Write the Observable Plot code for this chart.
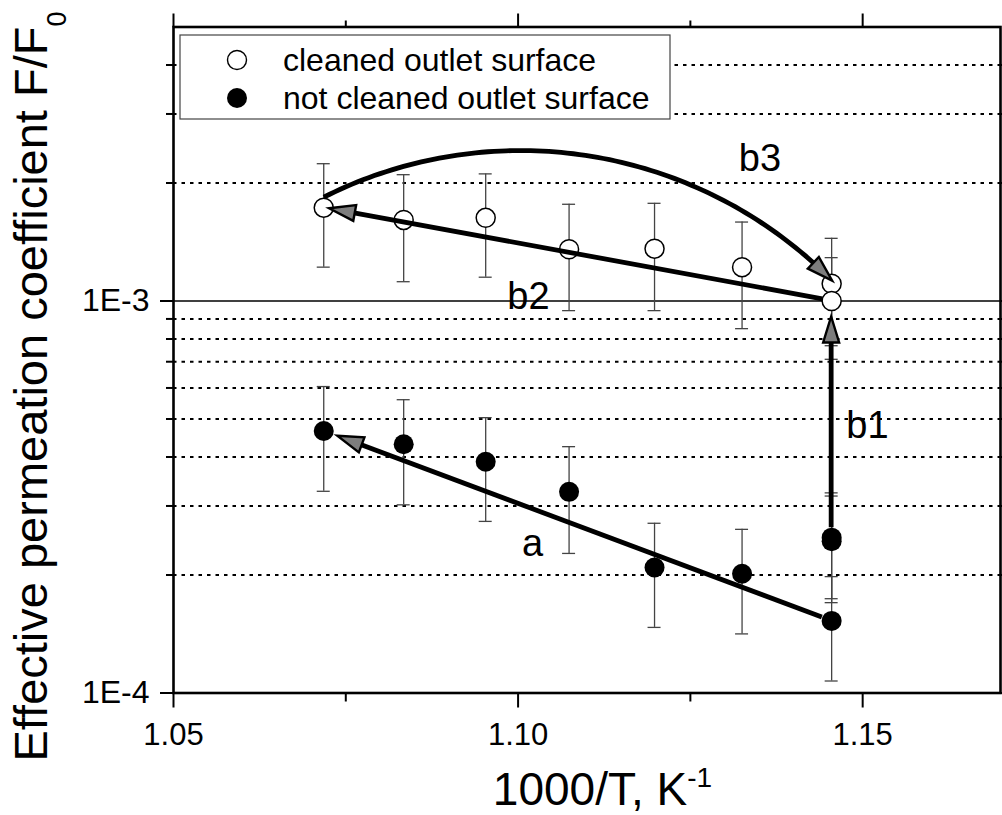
<!DOCTYPE html>
<html>
<head>
<meta charset="utf-8">
<script src="https://cdn.jsdelivr.net/npm/d3@7"></script>
<script src="https://cdn.jsdelivr.net/npm/@observablehq/plot@0.6"></script>
<style>
  html, body { margin: 0; padding: 0; background: #fff; }
  svg { display: block; }
</style>
</head>
<body>
<div id="chart"></div>
<script>
const FONT = "'Liberation Sans', Arial, Helvetica, sans-serif";

// Cleaned outlet surface (open circles): 1000/T, F/F0 and its error
const cleanedX   = [1.0718, 1.0834, 1.0953, 1.1074, 1.1198, 1.1325, 1.1455, 1.1455];
const cleanedF   = [1.73e-3, 1.61e-3, 1.63e-3, 1.355e-3, 1.36e-3, 1.22e-3, 1.107e-3, 1.0e-3];
const cleanedErr = [0.51e-3, 0.49e-3, 0.48e-3, 0.41e-3, 0.415e-3, 0.37e-3, 0.338e-3, 0.29e-3];

// Not cleaned outlet surface (filled circles)
const notCleanedX   = [1.0718, 1.0834, 1.0953, 1.1074, 1.1198, 1.1325, 1.1455, 1.1455, 1.1455];
const notCleanedF   = [4.66e-4, 4.31e-4, 3.89e-4, 3.26e-4, 2.09e-4, 2.015e-4, 2.49e-4, 2.44e-4, 1.527e-4];
const notCleanedErr = [1.39e-4, 1.29e-4, 1.15e-4, 0.99e-4, 0.62e-4, 0.60e-4, 0.75e-4, 0.74e-4, 0.454e-4];

// Transition arrows between measured states
const arrowNames = ["a", "b1", "b2", "b3"];
const arrowFromX = [1.1455, 1.1455, 1.1455, 1.0718];
const arrowFromF = [1.527e-4, 2.49e-4, 1.0e-3, 1.73e-3];
const arrowToX   = [1.0718, 1.1455, 1.0718, 1.1455];
const arrowToF   = [4.66e-4, 1.0e-3, 1.73e-3, 1.107e-3];

// Arrow labels
const labelText = ["a", "b1", "b2", "b3"];
const labelX    = [1.1021, 1.1507, 1.1015, 1.1351];
const labelF    = [2.40e-4, 4.80e-4, 1.024e-3, 2.30e-3];

// Axis ticks
const xMajor = [1.05, 1.10, 1.15];
const xMajorLabels = ["1.05", "1.10", "1.15"];
const xMinor = [1.075, 1.125];
const yMajor = [1e-4, 1e-3];
const yMajorLabels = ["1E-4", "1E-3"];
const yMinor = [2e-4, 3e-4, 4e-4, 5e-4, 6e-4, 7e-4, 8e-4, 9e-4, 2e-3, 3e-3, 4e-3];

const legendLabels = ["cleaned outlet surface", "not cleaned outlet surface"];
const xTitle = ["1000/T, K", "-1"];
const yTitle = ["Effective permeation coefficient F/F", "0"];

// Tables for the marks
const cleaned = cleanedX.map((x, i) => ({
  x, f: cleanedF[i], lo: cleanedF[i] - cleanedErr[i], hi: cleanedF[i] + cleanedErr[i]
}));
const notCleaned = notCleanedX.map((x, i) => ({
  x, f: notCleanedF[i], lo: notCleanedF[i] - notCleanedErr[i], hi: notCleanedF[i] + notCleanedErr[i]
}));
const labels = labelText.map((t, i) => ({t, x: labelX[i], f: labelF[i]}));

// Drawing style of each arrow: bend angle (deg), pixel insets at both ends,
// and optional pixel shifts of the end anchors (curved arrow leaves the top of the circle)
const arrowStyle = {
  a:  {bend: 0,  inset0: 10, inset1: 15},
  b1: {bend: 0,  inset0: 10, inset1: 16},
  b2: {bend: 0,  inset0: 9,  inset1: 6},
  b3: {bend: 36, inset0: 0,  inset1: 0, shift0: [0.5, -10], shift1: [1, -2.5]}
};
const HEAD_LEN = 26, HEAD_HALF = 8;

function pathPoints(p0, p1, bendDeg, inset0, inset1, n = 90) {
  const dx = p1[0] - p0[0], dy = p1[1] - p0[1], c = Math.hypot(dx, dy);
  if (!bendDeg) {
    const ux = dx / c, uy = dy / c;
    return [[p0[0] + ux * inset0, p0[1] + uy * inset0], [p1[0] - ux * inset1, p1[1] - uy * inset1]];
  }
  const b = bendDeg * Math.PI / 180;
  const nx = dy / c, ny = -dx / c;             // normal on the bulge side
  const R = (c / 2) / Math.sin(b);
  const h = (c / 2) / Math.tan(b);
  const cx = (p0[0] + p1[0]) / 2 - nx * h, cy = (p0[1] + p1[1]) / 2 - ny * h;
  const a0 = Math.atan2(p0[1] - cy, p0[0] - cx);
  let diff = Math.atan2(ny, nx) - a0;
  while (diff > Math.PI) diff -= 2 * Math.PI;
  while (diff <= -Math.PI) diff += 2 * Math.PI;
  const s = Math.sign(diff);
  const start = a0 + s * inset0 / R, end = a0 + s * (2 * b - inset1 / R);
  return d3.range(n + 1).map(k => {
    const a = start + (end - start) * k / n;
    return [cx + R * Math.cos(a), cy + R * Math.sin(a)];
  });
}

// point on the polyline at a given length back from its last vertex
function backAlong(pts, len) {
  let acc = 0;
  for (let k = pts.length - 1; k > 0; k--) {
    const [x1, y1] = pts[k], [x0, y0] = pts[k - 1];
    const seg = Math.hypot(x1 - x0, y1 - y0);
    if (acc + seg >= len) {
      const t = (len - acc) / seg;
      return {pt: [x1 + (x0 - x1) * t, y1 + (y0 - y1) * t], k};
    }
    acc += seg;
  }
  return {pt: pts[0], k: 1};
}

function arrowsMark(index, scales) {
  const g = d3.create("svg:g").attr("class", "arrows");
  arrowNames.forEach((name, i) => {
    const st = arrowStyle[name];
    const s0 = st.shift0 || [0, 0], s1 = st.shift1 || [0, 0];
    const p0 = [scales.x(arrowFromX[i]) + s0[0], scales.y(arrowFromF[i]) + s0[1]];
    const p1 = [scales.x(arrowToX[i]) + s1[0], scales.y(arrowToF[i]) + s1[1]];
    const pts = pathPoints(p0, p1, st.bend, st.inset0, st.inset1);
    const tip = pts[pts.length - 1];
    const base = backAlong(pts, HEAD_LEN).pt;
    const ux = (tip[0] - base[0]) / HEAD_LEN, uy = (tip[1] - base[1]) / HEAD_LEN;
    const px = -uy, py = ux;
    const cut = backAlong(pts, HEAD_LEN * 0.6);
    const shaft = pts.slice(0, cut.k).concat([cut.pt]);
    g.append("path")
      .attr("d", d3.line()(shaft))
      .attr("fill", "none")
      .attr("stroke", "black")
      .attr("stroke-width", 4.8);
    g.append("path")
      .attr("d", d3.line()([
        tip,
        [base[0] + px * HEAD_HALF, base[1] + py * HEAD_HALF],
        [base[0] - px * HEAD_HALF, base[1] - py * HEAD_HALF]
      ]) + "Z")
      .attr("fill", "#7d7d7d")
      .attr("stroke", "black")
      .attr("stroke-width", 2.4)
      .attr("stroke-linejoin", "miter");
  });
  return g.node();
}

function legendMark(index, scales, values, dims) {
  const x0 = dims.marginLeft + 7, y0 = dims.marginTop + 8.5;
  const g = d3.create("svg:g").attr("class", "legend").attr("text-anchor", "start");
  g.append("rect")
    .attr("x", x0).attr("y", y0).attr("width", 490).attr("height", 84)
    .attr("fill", "white").attr("stroke", "#444").attr("stroke-width", 1.2);
  const rows = [
    {fill: "white", stroke: "black", r: 9.5},
    {fill: "black", stroke: "none", r: 10}
  ];
  rows.forEach((row, i) => {
    const cy = y0 + 25 + i * 38;
    g.append("circle")
      .attr("cx", x0 + 57).attr("cy", cy).attr("r", row.r)
      .attr("fill", row.fill).attr("stroke", row.stroke).attr("stroke-width", 1.4);
    g.append("text")
      .attr("x", x0 + 103).attr("y", cy + 10.5)
      .attr("text-anchor", "start")
      .attr("font-size", 32).attr("fill", "black")
      .text(legendLabels[i]);
  });
  return g.node();
}

function titlesMark(index, scales, values, dims) {
  const g = d3.create("svg:g").attr("class", "titles").attr("fill", "black");
  const cxFrame = dims.marginLeft + (dims.width - dims.marginLeft - dims.marginRight) / 2;
  const xt = g.append("text")
    .attr("x", cxFrame + 16).attr("y", dims.height - 10)
    .attr("text-anchor", "middle").attr("font-size", 46);
  xt.append("tspan").text(xTitle[0]);
  xt.append("tspan").attr("font-size", 28).attr("dy", -18).text(xTitle[1]);

  const yt = g.append("text")
    .attr("transform", `translate(47,${dims.marginTop + 360}) rotate(-90)`)
    .attr("text-anchor", "middle").attr("font-size", 47);
  yt.append("tspan").text(yTitle[0]);
  yt.append("tspan").attr("font-size", 27).attr("dy", 19).text(yTitle[1]);
  return g.node();
}

const tickText = (ticks, texts) => d => texts[ticks.indexOf(d)];
const blank = () => "";

const chart = Plot.plot({
  width: 1002,
  height: 815,
  marginLeft: 173,
  marginRight: 2,
  marginTop: 26.5,
  marginBottom: 122.5,
  style: {fontFamily: FONT, background: "white", color: "black", overflow: "visible"},
  x: {domain: [1.05, 1.17], label: null},
  y: {type: "log", domain: [1e-4, 5e-3], label: null},
  marks: [
    // horizontal grid at the minor decades, solid line at 1E-3
    Plot.ruleY(yMinor, {stroke: "black", strokeWidth: 1.9, strokeDasharray: "3.5,5"}),
    Plot.ruleY([1e-3], {stroke: "black", strokeWidth: 1.3}),

    // error bars
    Plot.ruleX(notCleaned, {x: "x", y1: "lo", y2: "hi", stroke: "#444", strokeWidth: 1.3}),
    Plot.ruleY(notCleaned, {y: "lo", x1: "x", x2: "x", insetLeft: -6.5, insetRight: -6.5, stroke: "#444", strokeWidth: 1.3}),
    Plot.ruleY(notCleaned, {y: "hi", x1: "x", x2: "x", insetLeft: -6.5, insetRight: -6.5, stroke: "#444", strokeWidth: 1.3}),
    Plot.ruleX(cleaned, {x: "x", y1: "lo", y2: "hi", stroke: "#444", strokeWidth: 1.3}),
    Plot.ruleY(cleaned, {y: "lo", x1: "x", x2: "x", insetLeft: -6.5, insetRight: -6.5, stroke: "#444", strokeWidth: 1.3}),
    Plot.ruleY(cleaned, {y: "hi", x1: "x", x2: "x", insetLeft: -6.5, insetRight: -6.5, stroke: "#444", strokeWidth: 1.3}),

    // measurements
    Plot.dot(notCleaned, {x: "x", y: "f", r: 10, fill: "black", stroke: "none"}),
    Plot.dot(cleaned, {x: "x", y: "f", r: 9.5, fill: "white", stroke: "black", strokeWidth: 1.5}),

    arrowsMark,
    Plot.text(labels, {x: "x", y: "f", text: "t", fontSize: 38, fill: "black"}),

    // axes: ticks outward on all four sides
    Plot.axisX(xMajor, {anchor: "bottom", tickSize: 15, tickPadding: 15, strokeWidth: 2,
      fontSize: 31, tickFormat: tickText(xMajor, xMajorLabels), label: null}),
    Plot.axisX(xMinor, {anchor: "bottom", tickSize: 9, strokeWidth: 2, tickFormat: blank, label: null}),
    Plot.axisX(xMajor, {anchor: "top", tickSize: 14, strokeWidth: 2, tickFormat: blank, label: null}),
    Plot.axisX(xMinor, {anchor: "top", tickSize: 7, strokeWidth: 2, tickFormat: blank, label: null}),
    Plot.axisY(yMajor, {anchor: "left", tickSize: 13, tickPadding: 11, strokeWidth: 2,
      fontSize: 32, tickFormat: tickText(yMajor, yMajorLabels), label: null}),
    Plot.axisY(yMinor, {anchor: "left", tickSize: 7, strokeWidth: 2, tickFormat: blank, label: null}),
    Plot.axisY(yMajor, {anchor: "right", tickSize: 13, strokeWidth: 2, tickFormat: blank, label: null}),
    Plot.axisY(yMinor, {anchor: "right", tickSize: 7, strokeWidth: 2, tickFormat: blank, label: null}),
    Plot.frame({stroke: "black", strokeWidth: 2.6}),

    legendMark,
    titlesMark
  ]
});

document.getElementById("chart").appendChild(chart);
</script>
</body>
</html>
